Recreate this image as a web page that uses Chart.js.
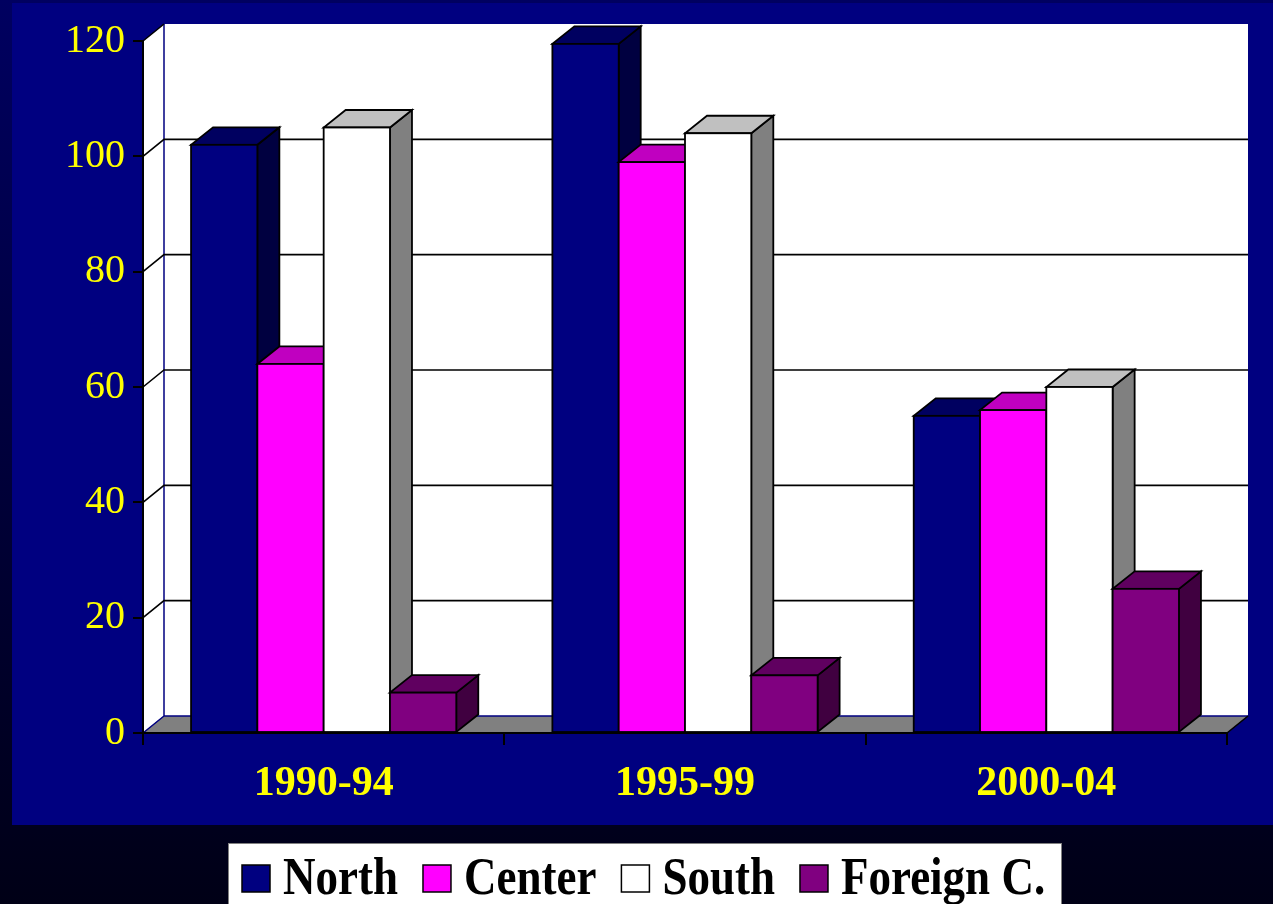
<!DOCTYPE html>
<html><head><meta charset="utf-8">
<script src="https://cdn.jsdelivr.net/npm/chart.js@4.4.1/dist/chart.umd.min.js"></script>
<style>html,body{margin:0;padding:0;background:#000030;overflow:hidden}#wrap{width:1273px;height:904px}</style>
</head><body><div id="wrap"><canvas id="c" width="1273" height="904"></canvas></div>
<script>
// ---- data ----
const categories = ['1990-94', '1995-99', '2000-04'];
const seriesNames = ['North', 'Center', 'South', 'Foreign C.'];
const north = [102, 119.5, 55];
const center = [64, 99, 56];
const south = [105, 104, 60];
const foreignC = [7, 10, 25];
const yMin = 0, yMax = 120, yStep = 20;

// ---- styles ----
const FONT = "'Liberation Serif', 'Times New Roman', serif";
const frontColors = ['#000080', '#FF00FF', '#FFFFFF', '#800080'];
const topColors = ['#000060', '#C000C0', '#C0C0C0', '#600060'];
const sideColors = ['#000040', '#800080', '#808080', '#400040'];
const WALL_DX = 21, WALL_DY = -17;
const BAR_DX = 22, BAR_DY = -17.5;

const scene = {
  id: 'scene',
  beforeDraw(chart) {
    const { ctx, width, height, chartArea: a } = chart;
    const ys = chart.scales.y;
    ctx.save();
    const g = ctx.createLinearGradient(0, 0, 0, height);
    g.addColorStop(0, '#000060');
    g.addColorStop(1, '#000016');
    ctx.fillStyle = g;
    ctx.fillRect(0, 0, width, height);
    ctx.fillStyle = '#000080';
    ctx.fillRect(12, 3, width - 12, 822);

    const L = a.left, R = a.right, T = a.top, B = a.bottom, dx = WALL_DX, dy = WALL_DY;
    ctx.fillStyle = '#FFFFFF';
    ctx.fillRect(L + dx, T + dy, R - L, B - T);
    ctx.beginPath();
    ctx.moveTo(L, T); ctx.lineTo(L + dx, T + dy); ctx.lineTo(L + dx, B + dy); ctx.lineTo(L, B);
    ctx.closePath(); ctx.fill();
    ctx.fillStyle = '#808080';
    ctx.beginPath();
    ctx.moveTo(L, B); ctx.lineTo(L + dx, B + dy); ctx.lineTo(R + dx, B + dy); ctx.lineTo(R, B);
    ctx.closePath(); ctx.fill();

    ctx.strokeStyle = '#000080'; ctx.lineWidth = 1.5;
    ctx.beginPath();
    ctx.moveTo(L + dx, T + dy); ctx.lineTo(L + dx, B + dy); ctx.lineTo(R + dx, B + dy);
    ctx.moveTo(L, B); ctx.lineTo(L + dx, B + dy);
    ctx.stroke();

    ctx.strokeStyle = '#000000'; ctx.lineWidth = 1.6;
    ctx.beginPath(); ctx.moveTo(R, B); ctx.lineTo(R + dx, B + dy); ctx.stroke();
    ys.ticks.forEach(t => {
      if (t.value === yMin) return;
      const py = ys.getPixelForValue(t.value);
      ctx.beginPath();
      ctx.moveTo(L, py); ctx.lineTo(L + dx, py + dy);
      if (t.value < yMax) ctx.lineTo(R + dx, py + dy);
      ctx.stroke();
    });
    ctx.restore();
  },
  afterDatasetsDraw(chart) {
    const { ctx } = chart;
    const metas = chart.data.datasets.map((d, i) => chart.getDatasetMeta(i));
    ctx.save();
    ctx.lineJoin = 'miter';
    ctx.strokeStyle = '#000000';
    ctx.lineWidth = 1.8;
    for (let j = 0; j < categories.length; j++) {
      for (let i = 0; i < metas.length; i++) {
        const el = metas[i].data[j];
        const p = el.getProps(['x', 'y', 'base', 'width'], true);
        const l = p.x - p.width / 2, r = p.x + p.width / 2, t = p.y, b = p.base;
        // side
        ctx.fillStyle = sideColors[i];
        ctx.beginPath();
        ctx.moveTo(r, t); ctx.lineTo(r + BAR_DX, t + BAR_DY); ctx.lineTo(r + BAR_DX, b + BAR_DY); ctx.lineTo(r, b);
        ctx.closePath(); ctx.fill(); ctx.stroke();
        // top
        ctx.fillStyle = topColors[i];
        ctx.beginPath();
        ctx.moveTo(l, t); ctx.lineTo(r, t); ctx.lineTo(r + BAR_DX, t + BAR_DY); ctx.lineTo(l + BAR_DX, t + BAR_DY);
        ctx.closePath(); ctx.fill(); ctx.stroke();
        // front
        ctx.fillStyle = frontColors[i];
        ctx.fillRect(l, t, r - l, b - t);
        ctx.strokeRect(l, t, r - l, b - t);
      }
    }
    ctx.restore();
  },
  afterDraw(chart) {
    const { ctx } = chart;
    ctx.save();
    ctx.fillStyle = '#FFFFFF';
    ctx.fillRect(228, 843, 834, 70);
    ctx.strokeStyle = '#808080'; ctx.lineWidth = 1;
    ctx.strokeRect(228.5, 843.5, 833, 70);
    ctx.font = 'bold 45px ' + FONT;
    ctx.textBaseline = 'alphabetic';
    let x = 242;
    chart.data.datasets.forEach((ds, i) => {
      ctx.fillStyle = ds.backgroundColor;
      ctx.fillRect(x, 865, 28, 27);
      ctx.strokeStyle = '#000000'; ctx.lineWidth = 1.5;
      ctx.strokeRect(x, 865, 28, 27);
      x += 28 + 13;
      ctx.fillStyle = '#000000';
      ctx.save();
      ctx.translate(x, 894);
      ctx.scale(1, 1.15);
      ctx.fillText(ds.label, 0, 0);
      ctx.restore();
      x += ctx.measureText(ds.label).width + 25;
    });
    ctx.restore();
  }
};

const seriesValues = [north, center, south, foreignC];
new Chart(document.getElementById('c'), {
  type: 'bar',
  data: {
    labels: categories,
    datasets: seriesNames.map((n, i) => ({
      label: n, data: seriesValues[i],
      backgroundColor: frontColors[i], borderWidth: 0,
      categoryPercentage: 0.734, barPercentage: 1.0
    }))
  },
  options: {
    responsive: false,
    devicePixelRatio: 1,
    animation: false,
    events: [],
    layout: { padding: { left: 0, top: 41, right: 46, bottom: 0 } },
    plugins: { legend: { display: false }, tooltip: { enabled: false }, title: { display: false } },
    scales: {
      x: {
        offset: true,
        grid: { offset: true, drawOnChartArea: false, drawTicks: true, tickLength: 12, color: '#000000', lineWidth: 2 },
        border: { display: true, color: '#000000', width: 2 },
        ticks: { color: '#FFFF00', font: { family: FONT, size: 42, weight: 'bold' }, padding: 14, maxRotation: 0 },
        afterFit(s) { s.height = 171; }
      },
      y: {
        min: yMin, max: yMax,
        grid: { drawOnChartArea: false, drawTicks: true, tickLength: 10, color: '#000000', lineWidth: 2 },
        border: { display: true, color: '#000000', width: 2 },
        ticks: { stepSize: yStep, color: '#FFFF00', font: { family: FONT, size: 40 }, padding: 8 },
        afterFit(s) { s.width = 143; }
      }
    }
  },
  plugins: [scene]
});
</script></body></html>
